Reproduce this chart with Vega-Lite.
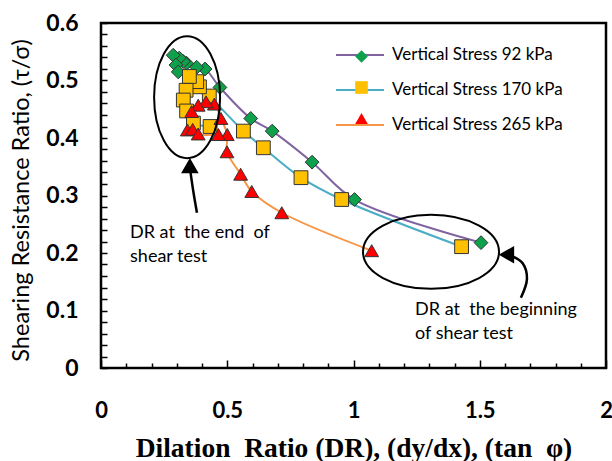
{
  "$schema": "https://vega.github.io/schema/vega-lite/v6.json",
  "width": 505,
  "height": 345,
  "autosize": {"type": "none"},
  "padding": {"left": 101, "top": 23, "right": 6, "bottom": 93},
  "background": "white",
  "config": {
    "view": {"stroke": "black", "strokeWidth": 2.5},
    "font": "Lato"
  },
  "datasets": {
    "main": [
      {"series": "Vertical Stress 92 kPa", "stress": 92, "order": 1, "x": 1.505, "y": 0.218},
      {"series": "Vertical Stress 92 kPa", "stress": 92, "order": 2, "x": 1.004, "y": 0.293},
      {"series": "Vertical Stress 92 kPa", "stress": 92, "order": 3, "x": 0.836, "y": 0.358},
      {"series": "Vertical Stress 92 kPa", "stress": 92, "order": 4, "x": 0.678, "y": 0.412},
      {"series": "Vertical Stress 92 kPa", "stress": 92, "order": 5, "x": 0.593, "y": 0.434},
      {"series": "Vertical Stress 92 kPa", "stress": 92, "order": 6, "x": 0.471, "y": 0.488},
      {"series": "Vertical Stress 92 kPa", "stress": 92, "order": 7, "x": 0.412, "y": 0.52},
      {"series": "Vertical Stress 92 kPa", "stress": 92, "order": 8, "x": 0.379, "y": 0.523},
      {"series": "Vertical Stress 92 kPa", "stress": 92, "order": 9, "x": 0.339, "y": 0.53},
      {"series": "Vertical Stress 92 kPa", "stress": 92, "order": 10, "x": 0.326, "y": 0.533},
      {"series": "Vertical Stress 92 kPa", "stress": 92, "order": 11, "x": 0.31, "y": 0.539},
      {"series": "Vertical Stress 92 kPa", "stress": 92, "order": 12, "x": 0.286, "y": 0.544},
      {"series": "Vertical Stress 92 kPa", "stress": 92, "order": 13, "x": 0.297, "y": 0.527},
      {"series": "Vertical Stress 92 kPa", "stress": 92, "order": 14, "x": 0.306, "y": 0.515},
      {"series": "Vertical Stress 170 kPa", "stress": 170, "order": 1, "x": 1.428, "y": 0.211},
      {"series": "Vertical Stress 170 kPa", "stress": 170, "order": 2, "x": 0.953, "y": 0.293},
      {"series": "Vertical Stress 170 kPa", "stress": 170, "order": 3, "x": 0.792, "y": 0.331},
      {"series": "Vertical Stress 170 kPa", "stress": 170, "order": 4, "x": 0.643, "y": 0.383},
      {"series": "Vertical Stress 170 kPa", "stress": 170, "order": 5, "x": 0.564, "y": 0.412},
      {"series": "Vertical Stress 170 kPa", "stress": 170, "order": 6, "x": 0.429, "y": 0.473},
      {"series": "Vertical Stress 170 kPa", "stress": 170, "order": 7, "x": 0.39, "y": 0.489},
      {"series": "Vertical Stress 170 kPa", "stress": 170, "order": 8, "x": 0.379, "y": 0.498},
      {"series": "Vertical Stress 170 kPa", "stress": 170, "order": 9, "x": 0.35, "y": 0.507},
      {"series": "Vertical Stress 170 kPa", "stress": 170, "order": 10, "x": 0.337, "y": 0.483},
      {"series": "Vertical Stress 170 kPa", "stress": 170, "order": 11, "x": 0.326, "y": 0.466},
      {"series": "Vertical Stress 170 kPa", "stress": 170, "order": 12, "x": 0.339, "y": 0.447},
      {"series": "Vertical Stress 170 kPa", "stress": 170, "order": 13, "x": 0.366, "y": 0.426},
      {"series": "Vertical Stress 170 kPa", "stress": 170, "order": 14, "x": 0.432, "y": 0.42},
      {"series": "Vertical Stress 265 kPa", "stress": 265, "order": 1, "x": 1.072, "y": 0.204},
      {"series": "Vertical Stress 265 kPa", "stress": 265, "order": 2, "x": 0.716, "y": 0.27},
      {"series": "Vertical Stress 265 kPa", "stress": 265, "order": 3, "x": 0.597, "y": 0.307},
      {"series": "Vertical Stress 265 kPa", "stress": 265, "order": 4, "x": 0.553, "y": 0.337},
      {"series": "Vertical Stress 265 kPa", "stress": 265, "order": 5, "x": 0.499, "y": 0.376},
      {"series": "Vertical Stress 265 kPa", "stress": 265, "order": 6, "x": 0.5, "y": 0.406},
      {"series": "Vertical Stress 265 kPa", "stress": 265, "order": 7, "x": 0.475, "y": 0.434},
      {"series": "Vertical Stress 265 kPa", "stress": 265, "order": 8, "x": 0.449, "y": 0.459},
      {"series": "Vertical Stress 265 kPa", "stress": 265, "order": 9, "x": 0.416, "y": 0.463},
      {"series": "Vertical Stress 265 kPa", "stress": 265, "order": 10, "x": 0.385, "y": 0.457},
      {"series": "Vertical Stress 265 kPa", "stress": 265, "order": 11, "x": 0.359, "y": 0.446},
      {"series": "Vertical Stress 265 kPa", "stress": 265, "order": 12, "x": 0.342, "y": 0.414},
      {"series": "Vertical Stress 265 kPa", "stress": 265, "order": 13, "x": 0.363, "y": 0.415},
      {"series": "Vertical Stress 265 kPa", "stress": 265, "order": 14, "x": 0.385, "y": 0.407},
      {"series": "Vertical Stress 265 kPa", "stress": 265, "order": 15, "x": 0.465, "y": 0.406}
    ],
    "ellipseTall": [{"x": 0.341, "y": 0.471}],
    "ellipseWide": [{"x": 1.307, "y": 0.202}],
    "arrowLines": [
      {"arrow": "end", "order": 1, "x": 0.38, "y": 0.27},
      {"arrow": "end", "order": 2, "x": 0.366, "y": 0.306},
      {"arrow": "end", "order": 3, "x": 0.354, "y": 0.342},
      {"arrow": "begin", "order": 1, "x": 1.663, "y": 0.122},
      {"arrow": "begin", "order": 2, "x": 1.687, "y": 0.155},
      {"arrow": "begin", "order": 3, "x": 1.67, "y": 0.182},
      {"arrow": "begin", "order": 4, "x": 1.63, "y": 0.194}
    ],
    "headUp": [{"x": 0.352, "y": 0.351}],
    "headLeft": [{"x": 1.608, "y": 0.197}],
    "notes": [
      {"x": 0.115, "y": 0.226, "label": "DR at\u00a0 the end\u00a0 of\nshear test"},
      {"x": 1.244, "y": 0.092, "label": "DR at\u00a0 the beginning\nof shear test"}
    ]
  },
  "encoding": {
    "x": {
      "field": "x",
      "type": "quantitative",
      "scale": {"domain": [0, 2], "nice": false, "zero": false},
      "axis": {
        "values": [0, 0.1, 0.2, 0.3, 0.4, 0.5, 0.6, 0.7, 0.8, 0.9, 1, 1.1, 1.2, 1.3, 1.4, 1.5, 1.6, 1.7, 1.8, 1.9, 2],
        "format": "~g",
        "labelExpr": "indexof(['0','0.5','1','1.5','2'], datum.label) >= 0 ? datum.label : ''",
        "domain": false,
        "grid": false,
        "tickColor": "black",
        "tickWidth": 1.5,
        "tickSize": {"condition": {"test": "indexof([0, 0.5, 1, 1.5, 2], datum.value) >= 0", "value": -8}, "value": -5},
        "labelFont": "Lato",
        "labelFontWeight": "bold",
        "labelFontSize": 22,
        "labelColor": "black",
        "labelPadding": 40,
        "labelOverlap": false,
        "labelFlush": false,
        "title": "Dilation\u00a0 Ratio (DR), (dy/dx), (tan\u00a0 φ)",
        "titleFont": "Liberation Serif",
        "titleFontSize": 27.5,
        "titleFontWeight": "bold",
        "titleColor": "black",
        "titlePadding": 10
      }
    },
    "y": {
      "field": "y",
      "type": "quantitative",
      "scale": {"domain": [0, 0.6], "nice": false, "zero": false},
      "axis": {
        "values": [0, 0.02, 0.04, 0.06, 0.08, 0.1, 0.12, 0.14, 0.16, 0.18, 0.2, 0.22, 0.24, 0.26, 0.28, 0.3, 0.32, 0.34, 0.36, 0.38, 0.4, 0.42, 0.44, 0.46, 0.48, 0.5, 0.52, 0.54, 0.56, 0.58, 0.6],
        "format": "~g",
        "labelExpr": "indexof(['0','0.1','0.2','0.3','0.4','0.5','0.6'], datum.label) >= 0 ? datum.label : ''",
        "domain": false,
        "grid": false,
        "tickColor": "black",
        "tickWidth": 1.5,
        "tickSize": -6,
        "labelFont": "Lato",
        "labelFontWeight": "bold",
        "labelFontSize": 23,
        "labelColor": "black",
        "labelPadding": 29,
        "labelOverlap": false,
        "labelFlush": false,
        "title": "Shearing Resistance Ratio, (τ/σ)",
        "titleFont": "Lato",
        "titleFontSize": 23.5,
        "titleFontWeight": "normal",
        "titleColor": "black",
        "titlePadding": 12,
        "titleY": 177
      }
    }
  },
  "layer": [
    {
      "data": {"name": "main"},
      "mark": {"type": "line", "interpolate": "catmull-rom", "strokeWidth": 2},
      "encoding": {
        "order": {"field": "order", "type": "quantitative"},
        "stroke": {
          "field": "series",
          "type": "nominal",
          "scale": {"domain": ["Vertical Stress 92 kPa", "Vertical Stress 170 kPa", "Vertical Stress 265 kPa"], "range": ["#8064A2", "#4BACC6", "#F79646"]},
          "legend": {
            "orient": "none",
            "legendX": 234,
            "legendY": 7,
            "title": null,
            "symbolType": "stroke",
            "symbolSize": 2304,
            "symbolStrokeWidth": 2,
            "labelFont": "Lato",
            "labelFontSize": 17,
            "labelLimit": 300,
            "labelColor": "black",
            "labelOffset": 7,
            "rowPadding": 2,
            "padding": 0
          }
        }
      }
    },
    {
      "data": {"name": "main"},
      "mark": {"type": "point", "filled": true, "stroke": "#333333", "strokeWidth": 1, "opacity": 1},
      "encoding": {
        "fill": {
          "field": "stress",
          "type": "nominal",
          "scale": {"domain": [92, 170, 265], "range": ["#0FA04B", "#FFC000", "#FF0000"]},
          "legend": {
            "orient": "none",
            "legendX": 252,
            "legendY": 25,
            "title": null,
            "symbolSize": 160,
            "symbolStrokeColor": "#333333",
            "symbolStrokeWidth": 1,
            "symbolOpacity": 1,
            "labelExpr": "''",
            "labelFontSize": 17,
            "labelOffset": 0,
            "rowPadding": 13,
            "padding": 0
          }
        },
        "shape": {
          "field": "stress",
          "type": "nominal",
          "scale": {"domain": [92, 170, 265], "range": ["diamond", "square", "triangle-up"]},
          "legend": {
            "orient": "none",
            "legendX": 252,
            "legendY": 25,
            "title": null,
            "symbolSize": 160,
            "symbolStrokeColor": "#333333",
            "symbolStrokeWidth": 1,
            "symbolOpacity": 1,
            "labelExpr": "''",
            "labelFontSize": 17,
            "labelOffset": 0,
            "rowPadding": 13,
            "padding": 0
          }
        },
        "size": {"value": 190}
      }
    },
    {
      "data": {"name": "ellipseTall"},
      "mark": {"type": "point", "shape": "M0,-1 A0.541,1 0 1,1 0,1 A0.541,1 0 1,1 0,-1", "size": 14884, "stroke": "black", "strokeWidth": 2, "filled": false, "opacity": 1}
    },
    {
      "data": {"name": "ellipseWide"},
      "mark": {"type": "point", "shape": "M-1,0 A1,0.544 0 1,1 1,0 A1,0.544 0 1,1 -1,0", "size": 18496, "stroke": "black", "strokeWidth": 2, "filled": false, "opacity": 1}
    },
    {
      "data": {"name": "arrowLines"},
      "mark": {"type": "line", "interpolate": "catmull-rom", "stroke": "black", "strokeWidth": 2.5},
      "encoding": {
        "detail": {"field": "arrow", "type": "nominal"},
        "order": {"field": "order", "type": "quantitative"}
      }
    },
    {
      "data": {"name": "headUp"},
      "mark": {"type": "point", "shape": "triangle-up", "size": 200, "filled": true, "fill": "black", "stroke": "black", "opacity": 1}
    },
    {
      "data": {"name": "headLeft"},
      "mark": {"type": "point", "shape": "triangle-left", "size": 200, "filled": true, "fill": "black", "stroke": "black", "opacity": 1}
    },
    {
      "data": {"name": "notes"},
      "mark": {"type": "text", "align": "left", "baseline": "alphabetic", "font": "Lato", "fontSize": 18, "lineBreak": "\n", "lineHeight": 24, "color": "black"},
      "encoding": {"text": {"field": "label", "type": "nominal"}}
    }
  ]
}
